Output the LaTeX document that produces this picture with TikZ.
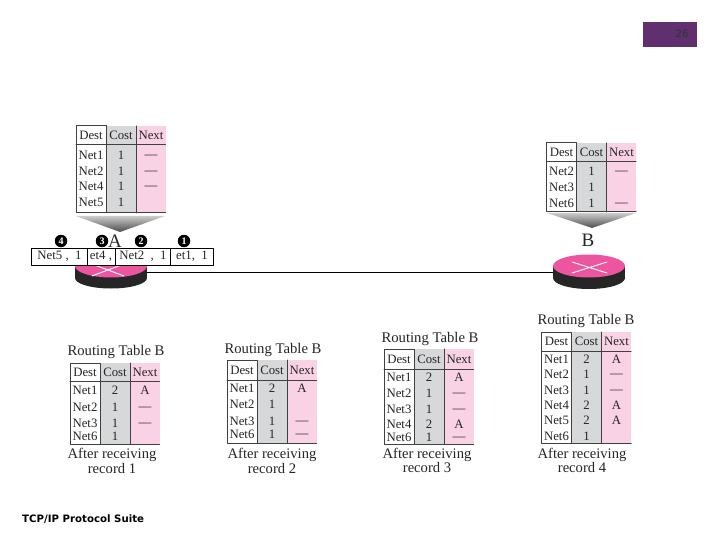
\documentclass[tikz,border=0pt]{standalone}
\usepackage{fontspec}
\usepackage{tikz}
\usetikzlibrary{shapes.geometric}
\setmainfont{Liberation Serif}
\newfontfamily\slidefont{DejaVu Sans}
\definecolor{rtgray}{HTML}{D6D8DA}
\definecolor{rtpink}{HTML}{F9D3E5}
\definecolor{rtrouter}{HTML}{EC559F}
\definecolor{rtslide}{HTML}{5F2F6E}
\newcommand{\rtdash}{\raisebox{-3.4pt}[0pt][0pt]{---}}
\tikzset{
  every picture/.append style={line cap=round,line join=round},
  rt cell/.style={font=\fontsize{12.8}{13}\selectfont,text=black!85,inner sep=0pt},
  rt title/.style={font=\fontsize{14.7}{15}\selectfont,text=black!85,inner sep=0pt},
  rt caption/.style={font=\fontsize{14.6}{13}\selectfont,text=black!85,inner sep=0pt,align=center},
  rt rule/.style={black!75,line width=1pt},
  rt record/.style={draw=black,fill=white,line width=1pt,inner sep=0pt,minimum height=17pt,font=\fontsize{12.8}{13}\selectfont,text=black!85},
  rt badge/.style={circle,fill=black,text=white,inner sep=0pt,minimum size=12.5pt,font=\bfseries\fontsize{10}{10}\selectfont},
  rt router/.style={ellipse,fill=rtrouter,inner sep=0pt,minimum width=72pt,minimum height=23pt},
  rt letter/.style={font=\fontsize{19}{19}\selectfont,text=black!85,inner sep=0pt}
}
% #1 name, #2 left, #3 top, #4 header line, #5 bottom, #6 rows y/net/cost/next
\newcommand{\rtable}[6]{
  \fill[rtgray] (#2+30,#3) rectangle (#2+60,#5);
  \fill[rtpink] (#2+60,#3) rectangle (#2+89.5,#5);
  \draw[rt rule] (#2,#3) rectangle (#2+30,#5);
  \draw[rt rule] (#2,#4) -- (#2+89.5,#4);
  \draw[rt rule] (#2+60,#3) -- (#2+60,#5);
  \draw[rt rule] (#2+30,#5) -- (#2+89.5,#5);
  \node[rt cell] (#1-dest) at (#2+15,{(#3+#4)/2}) {Dest};
  \node[rt cell] (#1-cost) at (#2+45,{(#3+#4)/2}) {Cost};
  \node[rt cell] (#1-next) at (#2+75,{(#3+#4)/2}) {Next};
  \foreach \rowy/\netname/\costval/\nextval in {#6}{
    \node[rt cell] (#1-\netname) at (#2+15,\rowy) {\netname};
    \node[rt cell] at (#2+45,\rowy) {\costval};
    \node[rt cell] at (#2+75,\rowy) {\nextval};
  }
}
\begin{document}
\begin{tikzpicture}[x=1pt,y=-1pt]
  \useasboundingbox (0,0) rectangle (720,540);
  \fill[white] (0,0) rectangle (720,540);
  % slide furniture
  \fill[rtslide] (643,22) rectangle (697,47);
  \node[font=\slidefont\fontsize{10}{10}\selectfont,text=black!80,inner sep=0pt] (pageno) at (682,34) {26};
  \node[font=\slidefont\bfseries\fontsize{10.2}{10}\selectfont,text=black,inner sep=0pt,anchor=west] (suite) at (22,519.5) {TCP/IP Protocol Suite};
  % the two routers and the link
  \fill[black!85] (75,266) rectangle (147,278);
  \fill[black!85] (111,278) ellipse (36 and 10.5);
  \node[rt router] (routera) at (111,266) {};
  \fill[black!85] (553,266) rectangle (625,278);
  \fill[black!85] (589,278) ellipse (36 and 11);
  \node[rt router] (routerb) at (589,266) {};
  \draw[black,line width=1.5pt] ([yshift=-6.5pt]routera.east) -- ([yshift=-6.5pt]routerb.west);
  \draw[white,line width=0.9pt] (92,264) -- (124,276) (92,276) -- (124,264);
  \draw[white,line width=0.9pt] (572,262) -- (607,273) (572,273) -- (607,262);
  % tables above the routers
  \rtable{ta}{76}{126}{145}{213}{155/Net1/1/\rtdash,171/Net2/1/\rtdash,186/Net4/1/\rtdash,202/Net5/1/{}}
  \shade[top color=black!20,bottom color=black!70] (76,216) -- (165,216) -- (120,232) -- cycle;
  \rtable{tb}{546.5}{143}{162}{212}{171/Net2/1/\rtdash,187/Net3/1/{},203/Net6/1/\rtdash}
  \shade[top color=black!20,bottom color=black!70] (547,213) -- (636,213) -- (592,228) -- cycle;
  \node[rt letter] (labela) at (115,241) {A};
  \node[rt letter] (labelb) at (588,240) {B};
  % the update message
  \node[rt record,minimum width=43pt] (recnet1) at (192,256.5) {et1,\ \ 1};
  \node[rt record,minimum width=28pt] (recnet4) at (101,256.5) {et4 ,};
  \node[rt record,minimum width=55.5pt] (recnet2) at (143,256.5) {Net2\ \ ,\ \ 1};
  \node[rt record,minimum width=55.5pt] (recnet5) at (59.5,256.5) {Net5 ,\ \ 1};
  \node[rt badge] (bfour) at (61,241) {4};
  \node[rt badge] (bthree) at (102,241) {3};
  \node[rt badge] (btwo) at (141,241) {2};
  \node[rt badge] (bone) at (184,241) {1};
  % routing table B after each record
  \node[rt title] (titlea) at (116,351.5) {Routing Table B};
  \rtable{one}{70}{363}{381}{444}{390/Net1/2/A,407.5/Net2/1/\rtdash,423/Net3/1/\rtdash,436/Net6/1/{}}
  \node[rt caption] (capa) at (112,461) {After receiving\\record 1};
  \node[rt title] (titleb) at (273,350) {Routing Table B};
  \rtable{two}{227}{360}{380}{443}{388/Net1/2/A,404/Net2/1/{},421.5/Net3/1/\rtdash,434/Net6/1/\rtdash}
  \node[rt caption] (capb) at (272,461) {After receiving\\record 2};
  \node[rt title] (titlec) at (430,339) {Routing Table B};
  \rtable{three}{384}{349}{369}{444}{377/Net1/2/A,393/Net2/1/\rtdash,409/Net3/1/\rtdash,424/Net4/2/A,437/Net6/1/\rtdash}
  \node[rt caption] (capc) at (427,460.5) {After receiving\\record 3};
  \node[rt title] (titled) at (586,321) {Routing Table B};
  \rtable{four}{541.5}{332}{351}{443}{359/Net1/2/A,374/Net2/1/\rtdash,390/Net3/1/\rtdash,405.5/Net4/2/A,420.5/Net5/2/A,436/Net6/1/{}}
  \node[rt caption] (capd) at (582,460.5) {After receiving\\record 4};
\end{tikzpicture}
\end{document}
